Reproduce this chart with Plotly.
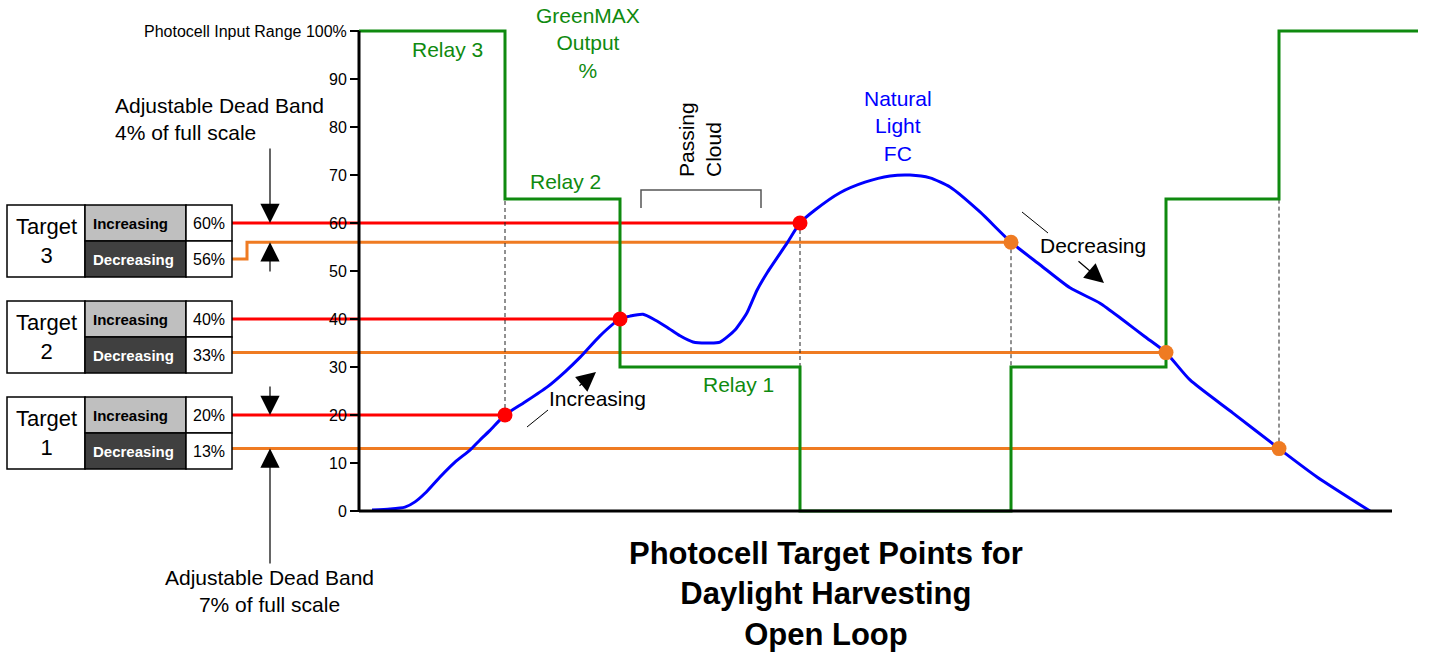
import plotly.graph_objects as go

# ---------------------------------------------------------------------------
# Data
# ---------------------------------------------------------------------------
# Natural daylight reaching the photocell over the day (time units, % of range)
light_t = [13, 31, 46, 56, 66, 81, 96, 111, 121, 131, 146, 166, 188, 206, 221,
           241, 261, 271, 284, 296, 308, 321, 334, 351, 361, 376, 388, 398, 408,
           428, 441, 456, 481, 506, 531, 551, 571, 591, 621, 652, 681, 711, 741,
           764, 786, 807, 831, 874, 920, 958, 1011]
light_pct = [0.2, 0.4, 0.8, 1.9, 3.7, 7.1, 10.2, 12.7, 14.8, 16.8, 20, 22.7,
             25.8, 29, 32, 36.5, 40, 40.6, 41, 39.8, 38.3, 36.5, 35.2, 35, 35.2,
             37.7, 41.3, 46, 49.6, 55.8, 60, 62.7, 66.3, 68.5, 69.8, 70, 69.4,
             67.5, 62.3, 56, 51.3, 46.5, 43.3, 39.8, 36.3, 33, 27.3, 20.4, 13,
             7.1, 0]

# Target set points (top to bottom)
target_names = ["Target<br>3", "Target<br>2", "Target<br>1"]
increasing_pct = [60, 40, 20]
decreasing_pct = [56, 33, 13]
# Moments where the daylight curve crosses each set point
increasing_cross_t = [441, 261, 146]
decreasing_cross_t = [652, 807, 920]

# GreenMAX relay output (step trace)
relay_t = [0, 146, 146, 261, 261, 441, 441, 652, 652, 807, 807, 920, 920, 1059]
relay_pct = [100, 100, 65, 65, 30, 30, 0, 0, 30, 30, 65, 65, 100, 100]

# Y-axis ticks
tick_vals = [0, 10, 20, 30, 40, 50, 60, 70, 80, 90, 100]
tick_text = ["0", "10", "20", "30", "40", "50", "60", "70", "80", "90",
             "Photocell Input Range 100%"]

# ---------------------------------------------------------------------------
# Layout helpers: canvas pixels -> axis units (origin of the chart at 359, 511)
# ---------------------------------------------------------------------------
W, H = 1429, 656
X0_PX, Y0_PX, PX_PER_PCT = 359, 511, 4.8


def X(p):
    return p - X0_PX


def Y(p):
    return (Y0_PX - p) / PX_PER_PCT


FONT = "Arial, Liberation Sans, sans-serif"
GREEN = "#0F8A0F"
RED = "#FF0000"
ORANGE = "#EF7B22"
BLUE = "#0000FF"

fig = go.Figure()
shapes = []
annotations = []

# Axis lines
shapes.append(dict(type="line", xref="x", yref="y", x0=0, x1=X(1392), y0=0, y1=0,
                   line=dict(color="black", width=3)))
shapes.append(dict(type="line", xref="x", yref="y", x0=0, x1=0, y0=0, y1=100,
                   line=dict(color="black", width=3)))

# Target boxes
box_center_px = [241, 337, 433]
box_left, col1, col2, box_right = X(7), X(85), X(186), X(232)
for name, inc, dec, cy in zip(target_names, increasing_pct, decreasing_pct, box_center_px):
    top, mid, bot = Y(cy - 36), Y(cy), Y(cy + 36)
    border = dict(color="black", width=1.5)
    shapes += [
        dict(type="rect", xref="x", yref="y", x0=box_left, x1=col1, y0=bot, y1=top,
             fillcolor="white", line=border),
        dict(type="rect", xref="x", yref="y", x0=col1, x1=col2, y0=mid, y1=top,
             fillcolor="#BFBFBF", line=border),
        dict(type="rect", xref="x", yref="y", x0=col1, x1=col2, y0=bot, y1=mid,
             fillcolor="#404040", line=border),
        dict(type="rect", xref="x", yref="y", x0=col2, x1=box_right, y0=mid, y1=top,
             fillcolor="white", line=border),
        dict(type="rect", xref="x", yref="y", x0=col2, x1=box_right, y0=bot, y1=mid,
             fillcolor="white", line=border),
    ]
    annotations += [
        dict(x=(box_left + col1) / 2, y=mid, text=name, showarrow=False,
             font=dict(family=FONT, size=22, color="black"), align="center"),
        dict(x=X(91), y=Y(cy - 18), text="<b>Increasing</b>", showarrow=False,
             xanchor="left", font=dict(family=FONT, size=15, color="black")),
        dict(x=X(91), y=Y(cy + 18), text="<b>Decreasing</b>", showarrow=False,
             xanchor="left", font=dict(family=FONT, size=15, color="white")),
        dict(x=(col2 + box_right) / 2, y=Y(cy - 18), text=f"{inc}%", showarrow=False,
             font=dict(family=FONT, size=16, color="black")),
        dict(x=(col2 + box_right) / 2, y=Y(cy + 18), text=f"{dec}%", showarrow=False,
             font=dict(family=FONT, size=16, color="black")),
    ]

# Set-point lines from the boxes to the crossing points
for inc, dec, t_inc, t_dec, cy in zip(increasing_pct, decreasing_pct,
                                      increasing_cross_t, decreasing_cross_t,
                                      box_center_px):
    row = Y(cy + 18)
    if abs(row - dec) > 1:
        ox, oy = [box_right, X(247), X(247), t_dec], [row, row, dec, dec]
    else:
        ox, oy = [box_right, t_dec], [dec, dec]
    fig.add_trace(go.Scatter(x=ox, y=oy, mode="lines",
                             line=dict(color=ORANGE, width=3), hoverinfo="skip"))
    fig.add_trace(go.Scatter(x=[box_right, t_inc], y=[inc, inc], mode="lines",
                             line=dict(color=RED, width=3), hoverinfo="skip"))

# Dashed drop lines from crossing points to the relay output
relay_level_after = {146: 65, 261: 30, 441: 30, 652: 30, 807: 65, 920: 65}
for t, v in [(increasing_cross_t[2], increasing_pct[2]),
             (increasing_cross_t[0], increasing_pct[0]),
             (decreasing_cross_t[0], decreasing_pct[0]),
             (decreasing_cross_t[2], decreasing_pct[2])]:
    fig.add_trace(go.Scatter(x=[t, t], y=[v, relay_level_after[t]], mode="lines",
                             line=dict(color="#222222", width=1, dash="4px,3px"),
                             hoverinfo="skip"))

# Daylight curve
fig.add_trace(go.Scatter(x=light_t, y=light_pct, mode="lines",
                         line=dict(color=BLUE, width=3, shape="spline", smoothing=0.6),
                         hoverinfo="skip"))

# Relay output
fig.add_trace(go.Scatter(x=relay_t, y=relay_pct, mode="lines",
                         line=dict(color=GREEN, width=3), hoverinfo="skip"))

# Crossing markers
fig.add_trace(go.Scatter(x=increasing_cross_t, y=increasing_pct, mode="markers",
                         marker=dict(color=RED, size=15), hoverinfo="skip"))
fig.add_trace(go.Scatter(x=decreasing_cross_t, y=decreasing_pct, mode="markers",
                         marker=dict(color=ORANGE, size=15), hoverinfo="skip"))

# Passing-cloud bracket
shapes.append(dict(type="path", xref="x", yref="y",
                   path=f"M {X(641)},{Y(208)} L {X(641)},{Y(190)} "
                        f"L {X(761)},{Y(190)} L {X(761)},{Y(208)}",
                   line=dict(color="#555555", width=1.5)))

# Thin leader strokes next to the direction labels
shapes.append(dict(type="line", xref="x", yref="y", x0=X(527), y0=Y(427), x1=X(548), y1=Y(410),
                   line=dict(color="black", width=1)))
shapes.append(dict(type="line", xref="x", yref="y", x0=X(1022), y0=Y(212), x1=X(1048), y1=Y(233),
                   line=dict(color="black", width=1)))


def arrow(x_tail, y_tail, x_head, y_head, width=1.2):
    return dict(x=x_head, y=y_head, ax=x_tail, ay=y_tail, xref="x", yref="y",
                axref="x", ayref="y", text="", showarrow=True, arrowhead=2,
                arrowsize=3.2, arrowwidth=width, arrowcolor="black", standoff=0)


annotations += [
    arrow(X(578), Y(387), X(596), Y(372)),
    arrow(X(1077), Y(260), X(1104), Y(283)),
    # dead band markers
    arrow(X(270), Y(147), X(270), increasing_pct[0]),
    arrow(X(270), Y(273), X(270), decreasing_pct[0]),
    arrow(X(270), Y(385), X(270), increasing_pct[2]),
    arrow(X(270), Y(565), X(270), decreasing_pct[2]),
]


def label(px, py, text, color="black", size=21, **kw):
    d = dict(x=X(px), y=Y(py), text=text, showarrow=False,
             font=dict(family=FONT, size=size, color=color))
    d.update(kw)
    return d


annotations += [
    label(447, 49, "Relay 3", GREEN),
    label(588, 43, "GreenMAX<br>Output<br>%", GREEN),
    label(565, 181, "Relay 2", GREEN),
    label(738, 384, "Relay 1", GREEN),
    label(898, 126, "Natural<br>Light<br>FC", BLUE),
    label(597, 398, "Increasing"),
    label(1093, 245, "Decreasing"),
    label(700, 140, "Passing<br>Cloud", textangle=-90, align="left"),
    label(113, 119, "Adjustable Dead Band<br>4% of full scale", xanchor="left", align="left"),
    label(269, 591, "Adjustable Dead Band<br>7% of full scale"),
    label(826, 594, "<b>Photocell Target Points for<br>Daylight Harvesting<br>Open Loop</b>",
          size=31),
]

fig.update_layout(
    width=W, height=H,
    margin=dict(l=0, r=0, t=0, b=0),
    paper_bgcolor="white", plot_bgcolor="white",
    showlegend=False, hovermode=False,
    shapes=shapes, annotations=annotations,
    xaxis=dict(range=[X(0), X(W)], visible=False, fixedrange=True),
    yaxis=dict(range=[Y(H), Y(0)], anchor="free", position=X0_PX / W,
               showgrid=False, zeroline=False, showline=False,
               ticks="outside", ticklen=9, tickwidth=2, tickcolor="black",
               tickvals=tick_vals, ticktext=tick_text, automargin=False,
               tickfont=dict(family=FONT, size=16, color="black"), fixedrange=True),
)

fig.write_html("out.html", config={"displayModeBar": False})
